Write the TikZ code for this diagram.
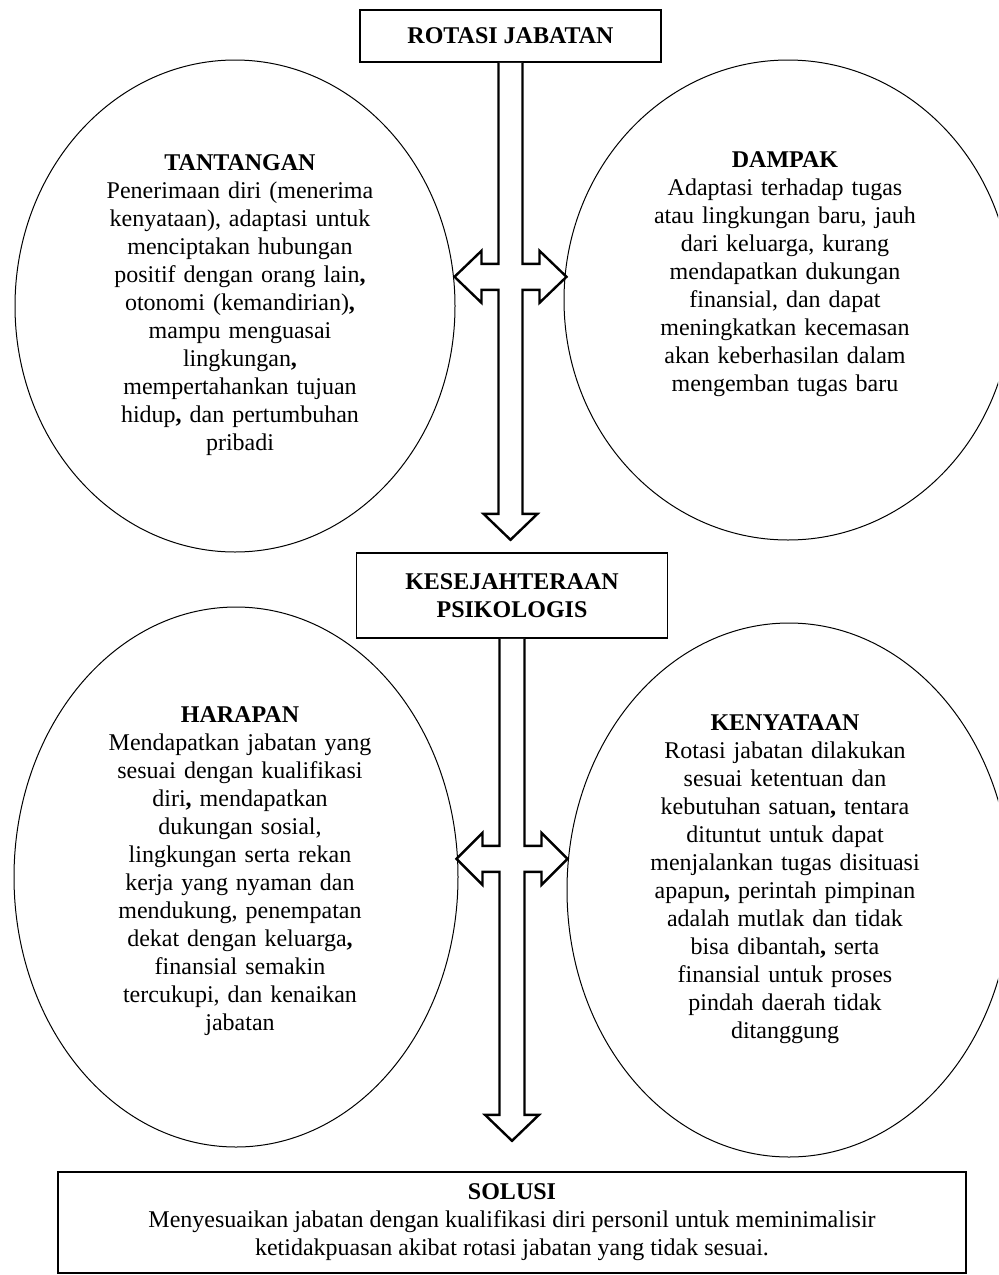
\documentclass[tikz,border=0pt]{standalone}
\usepackage{fontspec}
\setmainfont{Liberation Serif}
\usetikzlibrary{shapes.geometric,calc}

\begin{document}
\begin{tikzpicture}[x=0.5pt,y=-0.5pt,
  box/.style={draw,line width=.8pt,inner sep=0pt,align=center,font=\fontsize{12}{14}\selectfont},
  oval/.style={draw,ellipse,line width=.5pt,inner sep=0pt},
  txt/.style={align=center,text width=180pt,inner sep=0pt,anchor=base,font=\fontsize{12}{14}\selectfont},
  hollow/.style={draw,fill=white,line width=1.2pt,line join=miter}]
\clip (0,0) rectangle (998,1275);
% ovals
\node [oval,minimum width=220pt,minimum height=246pt] (tantangan) at (235,306) {};
\node [oval,minimum width=224pt,minimum height=240pt] (dampak) at (788,300) {};
\node [oval,minimum width=222pt,minimum height=270pt] (harapan) at (236,877) {};
\node [oval,minimum width=222pt,minimum height=267pt] (kenyataan) at (789,890) {};
% boxes
\node [box,minimum width=150.5pt,minimum height=26pt] (rotasi) at (510.5,36) {\textbf{ROTASI JABATAN}};
\node [box,minimum width=155.5pt,minimum height=42.5pt] (kesejahteraan) at (512,595.5) {\textbf{KESEJAHTERAAN}\\\textbf{PSIKOLOGIS}};
\node [box,minimum width=454pt,minimum height=50.5pt] (solusi) at (512,1222.5)
  {\textbf{SOLUSI}\\Menyesuaikan jabatan dengan kualifikasi diri personil untuk meminimalisir\\ketidakpuasan akibat rotasi jabatan yang tidak sesuai.};
% texts in the ovals
\node [txt] (tantangantxt) at (240,170) {\textbf{TANTANGAN}\\Penerimaan diri (menerima\\kenyataan), adaptasi untuk\\menciptakan hubungan\\positif dengan orang lain\textbf{,}\\otonomi (kemandirian)\textbf{,}\\mampu menguasai\\lingkungan\textbf{,}\\mempertahankan tujuan\\hidup\textbf{,} dan pertumbuhan\\pribadi};
\node [txt] (dampaktxt) at (785,167) {\textbf{DAMPAK}\\Adaptasi terhadap tugas\\atau lingkungan baru, jauh\\dari keluarga, kurang\\mendapatkan dukungan\\finansial, dan dapat\\meningkatkan kecemasan\\akan keberhasilan dalam\\mengemban tugas baru};
\node [txt] (harapantxt) at (240,722) {\textbf{HARAPAN}\\Mendapatkan jabatan yang\\sesuai dengan kualifikasi\\diri\textbf{,} mendapatkan\\dukungan sosial,\\lingkungan serta rekan\\kerja yang nyaman dan\\mendukung, penempatan\\dekat dengan keluarga\textbf{,}\\finansial semakin\\tercukupi, dan kenaikan\\jabatan};
\node [txt] (kenyataantxt) at (785,730) {\textbf{KENYATAAN}\\Rotasi jabatan dilakukan\\sesuai ketentuan dan\\kebutuhan satuan\textbf{,} tentara\\dituntut untuk dapat\\menjalankan tugas disituasi\\apapun\textbf{,} perintah pimpinan\\adalah mutlak dan tidak\\bisa dibantah\textbf{,} serta\\finansial untuk proses\\pindah daerah tidak\\ditanggung};
% upper hollow arrow
\draw [hollow] ($(rotasi.south)+(-12,0)$) -- ++(0,201) -- ++(-17,0) -- ++(0,-13)
  -- ++(-27,26) -- ++(27,26) -- ++(0,-13) -- ++(17,0)
  -- ++(0,224) -- ++(-15,0) -- ++(27,26) -- ++(27,-26) -- ++(-15,0)
  -- ++(0,-224) -- ++(17,0) -- ++(0,13) -- ++(27,-26) -- ++(-27,-26)
  -- ++(0,13) -- ++(-17,0) -- ($(rotasi.south)+(12,0)$);
% lower hollow arrow
\draw [hollow] ($(kesejahteraan.south)+(-12.5,0)$) -- ++(0,207) -- ++(-17,0) -- ++(0,-13)
  -- ++(-26,26) -- ++(26,26) -- ++(0,-13) -- ++(17,0)
  -- ++(0,243) -- ++(-14.5,0) -- ++(27,26) -- ++(27,-26) -- ++(-14.5,0)
  -- ++(0,-243) -- ++(17,0) -- ++(0,13) -- ++(26,-26) -- ++(-26,-26)
  -- ++(0,13) -- ++(-17,0) -- ($(kesejahteraan.south)+(12.5,0)$);
\end{tikzpicture}
\end{document}
